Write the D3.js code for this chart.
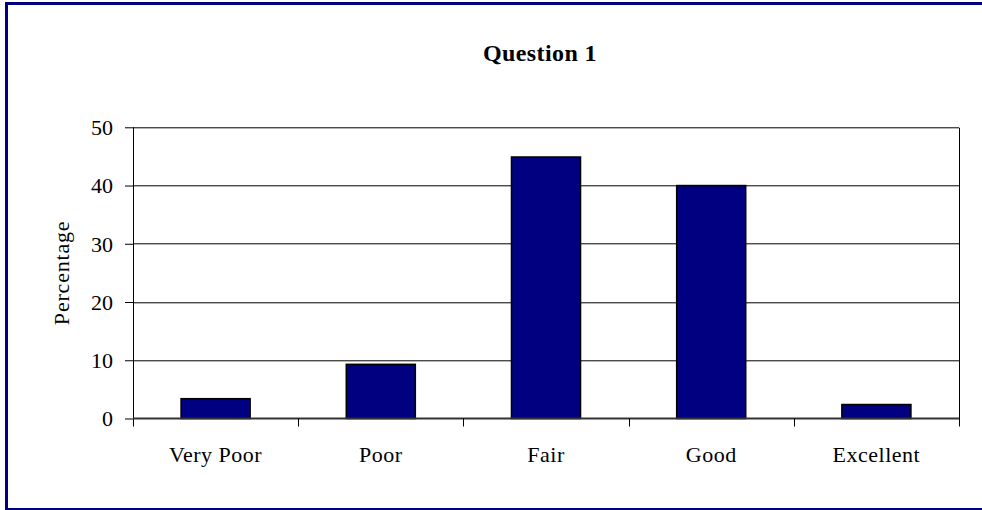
<!DOCTYPE html>
<html>
<head>
<meta charset="utf-8">
<script src="https://cdn.jsdelivr.net/npm/d3@7"></script>
<style>
  body { margin: 0; background: #fff; }
  svg { display: block; }
  text { font-family: "Liberation Serif", "Times New Roman", serif; fill: #000; }
</style>
</head>
<body>
<div id="chart"></div>
<script>
var categories = ["Very Poor", "Poor", "Fair", "Good", "Excellent"]
var percentages = [3.4, 9.3, 44.9, 40.0, 2.4]
var yTicks = [0, 10, 20, 30, 40, 50]

const W = 982, H = 510
const margin = {top: 127.3, right: 23, bottom: 91.5, left: 133},
    w = W - margin.left - margin.right,
    h = H - margin.top - margin.bottom;

var svg = d3.select("#chart")
    .append("svg")
    .attr("width", W)
    .attr("height", H)

// outer frame (right side is cut off in the original)
svg.append("rect")
    .attr("x", 6.5)
    .attr("y", 3.5)
    .attr("width", 1000)
    .attr("height", 506)
    .attr("fill", "none")
    .attr("stroke", "#000080")
    .attr("stroke-width", 3)

svg.append("text")
    .attr("x", 540)
    .attr("y", 61)
    .attr("text-anchor", "middle")
    .style("font-size", "24px")
    .style("font-weight", "bold")
    .style("letter-spacing", "0.4px")
    .text("Question 1")

var g = svg.append("g")
    .attr("transform", `translate(${margin.left}, ${margin.top})`)

var x = d3.scaleBand()
    .domain(categories)
    .range([0, w])
    .padding(0)
var y = d3.scaleLinear()
    .domain([0, 50])
    .range([h, 0])
// category boundaries, for the tick marks between bars
var xb = d3.scaleLinear()
    .domain([0, categories.length])
    .range([0, w])

// gridlines
g.append("g")
    .selectAll("line")
    .data(yTicks.filter(d => d > 0))
    .join("line")
    .attr("x1", 0)
    .attr("x2", w)
    .attr("y1", d => Math.round(y(d)) + 0.5)
    .attr("y2", d => Math.round(y(d)) + 0.5)
    .attr("stroke", "#000")
    .attr("stroke-width", 1)

// right border of plot
g.append("line")
    .attr("x1", w + 0.5).attr("x2", w + 0.5)
    .attr("y1", Math.round(y(50)) + 0.5).attr("y2", h + 8)
    .attr("stroke", "#000")

// bars
var barW = x.bandwidth() * 0.418
g.append("g")
    .selectAll("rect")
    .data(percentages)
    .join("rect")
    .attr("x", (d, i) => x(categories[i]) + (x.bandwidth() - barW) / 2)
    .attr("y", d => y(d))
    .attr("width", barW)
    .attr("height", d => h - y(d))
    .attr("fill", "#000080")
    .attr("stroke", "#000")
    .attr("stroke-width", 1.5)

// y axis
var yAxis = g.append("g")
    .call(d3.axisLeft(y).tickValues(yTicks).tickSize(8).tickPadding(12).tickFormat(d3.format("d")))
yAxis.select(".domain").remove()
yAxis.selectAll(".tick line").attr("stroke", "#000")
yAxis.selectAll(".tick text")
    .style("font-size", "22px")
    .attr("dy", "0.33em")
g.append("line")
    .attr("x1", 0.5).attr("x2", 0.5)
    .attr("y1", Math.round(y(50))).attr("y2", h + 8)
    .attr("stroke", "#000")

// x axis baseline
g.append("line")
    .attr("x1", 0).attr("x2", w)
    .attr("y1", h).attr("y2", h)
    .attr("stroke", "#333")
    .attr("stroke-width", 2)

// tick marks between categories
g.append("g")
    .selectAll("line")
    .data(d3.range(1, categories.length))
    .join("line")
    .attr("x1", d => Math.round(xb(d)) + 0.5)
    .attr("x2", d => Math.round(xb(d)) + 0.5)
    .attr("y1", h)
    .attr("y2", h + 8)
    .attr("stroke", "#000")

// category labels
var xAxis = g.append("g")
    .attr("transform", `translate(0, ${h})`)
    .call(d3.axisBottom(x).tickSize(0).tickPadding(28))
xAxis.select(".domain").remove()
xAxis.selectAll(".tick text")
    .style("font-size", "22px")
    .style("letter-spacing", "0.5px")

svg.append("text")
    .attr("transform", `translate(69, ${margin.top + h / 2}) rotate(-90)`)
    .attr("text-anchor", "middle")
    .style("font-size", "22px")
    .style("letter-spacing", "0.8px")
    .text("Percentage")
</script>
</body>
</html>
